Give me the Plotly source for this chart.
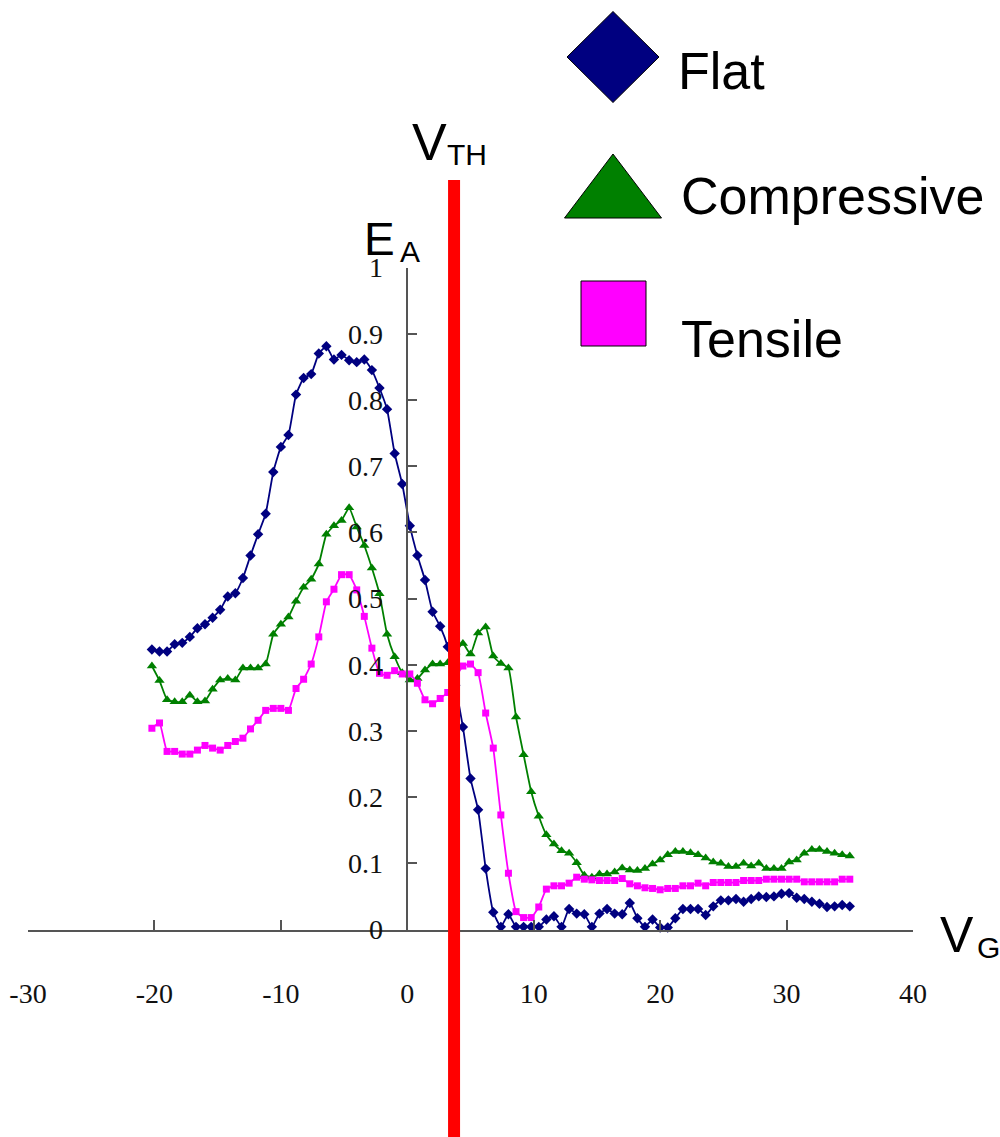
import plotly.graph_objects as go

W, H = 1000, 1137

# Gate voltage sweep (V)
vg = [-20.2, -19.6, -19.0, -18.4, -17.8, -17.2, -16.6, -16.0, -15.4, -14.8,
      -14.2, -13.6, -13.0, -12.4, -11.8, -11.2, -10.6, -10.0, -9.4, -8.8,
      -8.2, -7.6, -7.0, -6.4, -5.8, -5.2, -4.6, -4.0, -3.4, -2.8,
      -2.2, -1.6, -1.0, -0.4, 0.2, 0.8, 1.4, 2.0, 2.6, 3.2,
      3.8, 4.4, 5.0, 5.6, 6.2, 6.8, 7.4, 8.0, 8.6, 9.2,
      9.8, 10.4, 11.0, 11.6, 12.2, 12.8, 13.4, 14.0, 14.6, 15.2,
      15.8, 16.4, 17.0, 17.6, 18.2, 18.8, 19.4, 20.0, 20.6, 21.2,
      21.8, 22.4, 23.0, 23.6, 24.2, 24.8, 25.4, 26.0, 26.6, 27.2,
      27.8, 28.4, 29.0, 29.6, 30.2, 30.8, 31.4, 32.0, 32.6, 33.2,
      33.8, 34.4, 35.0]

ea_flat = [0.423, 0.420, 0.420, 0.431, 0.433, 0.442, 0.455, 0.461, 0.471, 0.483,
           0.503, 0.508, 0.531, 0.565, 0.597, 0.628, 0.691, 0.729, 0.747, 0.808,
           0.833, 0.839, 0.870, 0.881, 0.861, 0.868, 0.860, 0.857, 0.861, 0.845,
           0.818, 0.786, 0.719, 0.673, 0.610, 0.565, 0.528, 0.480, 0.458, 0.427,
           0.369, 0.306, 0.228, 0.181, 0.092, 0.026, 0.004, 0.023, 0.004, 0.004,
           0.004, 0.004, 0.015, 0.020, 0.004, 0.031, 0.024, 0.023, 0.004, 0.024,
           0.031, 0.024, 0.023, 0.040, 0.017, 0.004, 0.015, 0.003, 0.003, 0.017,
           0.031, 0.031, 0.031, 0.022, 0.035, 0.044, 0.044, 0.046, 0.042, 0.046,
           0.050, 0.049, 0.050, 0.054, 0.055, 0.048, 0.046, 0.042, 0.039, 0.034,
           0.035, 0.037, 0.035]

ea_compressive = [0.398, 0.376, 0.347, 0.344, 0.344, 0.354, 0.344, 0.345, 0.363, 0.377,
                  0.379, 0.377, 0.395, 0.395, 0.395, 0.401, 0.446, 0.461, 0.472, 0.496,
                  0.517, 0.529, 0.552, 0.597, 0.610, 0.618, 0.637, 0.608, 0.580, 0.546,
                  0.507, 0.446, 0.412, 0.388, 0.377, 0.379, 0.392, 0.401, 0.401, 0.403,
                  0.419, 0.432, 0.416, 0.448, 0.457, 0.413, 0.402, 0.395, 0.321, 0.264,
                  0.208, 0.171, 0.143, 0.129, 0.119, 0.115, 0.101, 0.082, 0.079, 0.084,
                  0.084, 0.087, 0.093, 0.090, 0.089, 0.092, 0.099, 0.105, 0.113, 0.118,
                  0.118, 0.116, 0.113, 0.108, 0.102, 0.100, 0.095, 0.095, 0.100, 0.096,
                  0.100, 0.092, 0.092, 0.092, 0.102, 0.105, 0.115, 0.121, 0.121, 0.118,
                  0.115, 0.113, 0.111]

ea_tensile = [0.304, 0.312, 0.269, 0.269, 0.265, 0.265, 0.271, 0.278, 0.274, 0.271,
              0.278, 0.284, 0.289, 0.303, 0.316, 0.331, 0.334, 0.334, 0.331, 0.364,
              0.378, 0.401, 0.442, 0.495, 0.514, 0.536, 0.536, 0.513, 0.473, 0.425,
              0.387, 0.384, 0.391, 0.386, 0.386, 0.372, 0.347, 0.341, 0.349, 0.358,
              0.380, 0.398, 0.401, 0.388, 0.327, 0.274, 0.173, 0.085, 0.027, 0.018,
              0.018, 0.034, 0.061, 0.066, 0.066, 0.070, 0.079, 0.076, 0.075, 0.074,
              0.074, 0.074, 0.077, 0.069, 0.066, 0.063, 0.062, 0.060, 0.062, 0.062,
              0.066, 0.066, 0.070, 0.066, 0.071, 0.071, 0.071, 0.071, 0.074, 0.074,
              0.074, 0.076, 0.076, 0.076, 0.076, 0.076, 0.072, 0.072, 0.072, 0.072,
              0.072, 0.076, 0.076]

v_th = 3.7

x_ticks = [-30, -20, -10, 0, 10, 20, 30, 40]
x_tick_text = ["-30", "-20", "-10", "0", "10", "20", "30", "40"]
y_ticks = [0, 0.1, 0.2, 0.3, 0.4, 0.5, 0.6, 0.7, 0.8, 0.9, 1]
y_tick_text = ["0", "0.1", "0.2", "0.3", "0.4", "0.5", "0.6", "0.7", "0.8", "0.9", "1"]

NAVY = "#000080"
GREEN = "#008000"
MAGENTA = "#FF00FF"
AXIS = "#555555"


def px(x):
    return x / W


def py(y):
    return 1 - y / H


series = [
    ("Flat", ea_flat, NAVY, "diamond", 8),
    ("Compressive", ea_compressive, GREEN, "triangle-up", 9),
    ("Tensile", ea_tensile, MAGENTA, "square", 7),
]

fig = go.Figure()
for name, ys, color, symbol, size in series:
    fig.add_trace(go.Scatter(
        x=vg, y=ys, name=name, mode="lines+markers",
        line=dict(color=color, width=1.8, shape="spline", smoothing=0.4),
        marker=dict(symbol=symbol, size=size, color=color, line=dict(width=0)),
        cliponaxis=False, showlegend=False,
    ))

# Threshold voltage marker
fig.add_shape(type="line", xref="x", yref="paper",
              x0=v_th, x1=v_th, y0=0, y1=py(180),
              line=dict(color="#FF0000", width=12), layer="above")

# Legend glyphs
def diamond(cx, cy, hw, hh):
    return (f"M {px(cx - hw)} {py(cy)} L {px(cx)} {py(cy - hh)} "
            f"L {px(cx + hw)} {py(cy)} L {px(cx)} {py(cy + hh)} Z")


def triangle(cx, top, bottom, hw):
    return (f"M {px(cx - hw)} {py(bottom)} L {px(cx + hw)} {py(bottom)} "
            f"L {px(cx)} {py(top)} Z")


fig.add_shape(type="path", xref="paper", yref="paper",
              path=diamond(613, 57, 46, 45.5),
              fillcolor=NAVY, line=dict(color="black", width=1))
fig.add_shape(type="path", xref="paper", yref="paper",
              path=triangle(613, 154, 218, 48.5),
              fillcolor=GREEN, line=dict(color="black", width=1))
fig.add_shape(type="rect", xref="paper", yref="paper",
              x0=px(581), x1=px(646), y0=py(346), y1=py(281),
              fillcolor=MAGENTA, line=dict(color="black", width=1))

SANS = "Liberation Sans, Arial, sans-serif"


def label(text, x, y, size):
    fig.add_annotation(text=text, xref="paper", yref="paper",
                       x=px(x), y=py(y), xanchor="left", yanchor="middle",
                       showarrow=False, font=dict(family=SANS, size=size, color="black"))


label("Flat", 676, 71, 52)
label("Compressive", 679, 196, 52)
label("Tensile", 679, 339, 52)
label("V", 410, 142, 52)
label("TH", 445, 154, 30)
label("E", 362, 239, 46)
label("A", 398, 251, 30)
label("V", 938, 935, 50)
label("G", 975, 947, 30)

tick_font = dict(family="Liberation Serif, Times New Roman, serif", size=28, color="#111111")

fig.update_layout(
    width=W, height=H, autosize=False,
    margin=dict(l=0, r=0, t=0, b=0, pad=0, autoexpand=False),
    paper_bgcolor="white", plot_bgcolor="rgba(0,0,0,0)",
    showlegend=False,
    xaxis=dict(
        domain=[px(28), px(913)], range=[-30, 40], automargin=False,
        showgrid=False, zeroline=False,
        showline=True, linecolor=AXIS, linewidth=1.5,
        ticks="inside", ticklen=10, tickwidth=1.5, tickcolor=AXIS,
        tickvals=x_ticks, ticktext=x_tick_text,
        tickfont=tick_font, ticklabelstandoff=38,
    ),
    yaxis=dict(
        domain=[py(929.5), py(267.5)], range=[0, 1], automargin=False,
        anchor="free", position=px(407.3), side="left",
        showgrid=False, zeroline=False,
        showline=True, linecolor=AXIS, linewidth=1.5,
        ticks="inside", ticklen=9, tickwidth=1.5, tickcolor=AXIS,
        tickvals=y_ticks, ticktext=y_tick_text,
        tickfont=tick_font, ticklabelstandoff=18,
    ),
)

fig.write_html("out.html")
